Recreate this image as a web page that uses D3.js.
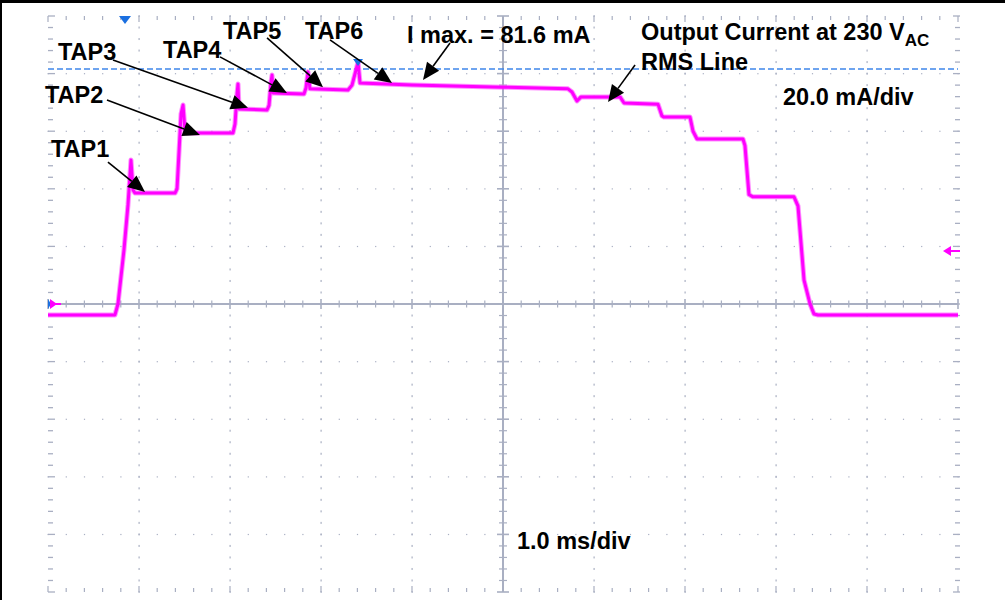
<!DOCTYPE html>
<html>
<head>
<meta charset="utf-8">
<script src="https://cdn.jsdelivr.net/npm/d3@7"></script>
<style>
  html, body { margin: 0; padding: 0; background: #fff; }
  svg { display: block; }
  text { font-family: "Liberation Sans", Arial, sans-serif; font-weight: bold; fill: #000; }
</style>
</head>
<body>
<svg id="chart" width="1005" height="600"></svg>
<script>
// ---- Data (time in ms, current in mA) ----
const timeMs = [0.000, 0.736, 0.769, 0.835, 0.879, 0.912, 0.934, 0.956, 1.396, 1.418, 1.462, 1.484, 1.505, 1.527,
  2.033, 2.055, 2.077, 2.088, 2.099, 2.407, 2.429, 2.451, 2.462, 2.473, 2.813, 2.835, 2.857, 2.879, 3.297,
  3.341, 3.385, 3.407, 3.429, 4.000, 5.000, 5.714, 5.758, 5.813, 5.857, 6.286, 6.330, 6.703, 6.747, 6.769,
  7.055, 7.088, 7.132, 7.637, 7.659, 7.703, 7.747, 8.198, 8.242, 8.308, 8.374, 8.418, 8.462, 10.000];
const currentMa = [-3.8, -3.8, 0.0, 18.8, 34.4, 50.0, 39.6, 38.5, 38.5, 40.0, 66.0, 69.1, 60.4, 59.4,
  59.4, 62.5, 72.9, 76.4, 67.7, 67.4, 69.0, 77.1, 79.5, 73.3, 72.9, 75.0, 80.6, 74.7, 74.3,
  76.0, 81.3, 84.0, 76.7, 76.0, 75.3, 74.7, 73.6, 70.5, 71.9, 71.9, 69.8, 69.4, 65.3, 64.9,
  64.9, 60.0, 57.3, 57.3, 55.0, 38.0, 37.2, 37.2, 34.0, 8.3, 0.0, -3.5, -3.8, -3.8];
const iMaxMa = 81.6;
const timeDomain = [0, 10];      // 10 divisions x 1.0 ms/div
const currentDomain = [-100, 100]; // 10 divisions x 20.0 mA/div

// Annotation labels: text anchor and arrow (start -> tip), in data units (ms, mA)
const labelTexts = ["TAP1", "TAP2", "TAP3", "TAP4", "TAP5", "TAP6", "I max. = 81.6 mA", ""];
const labelPos   = [[0.033, 51.0], [-0.033, 69.8], [0.110, 84.7], [1.264, 85.4], [1.923, 92.0], [2.824, 92.0], [3.945, 90.6], [6.516, 91.3]];
const arrowFrom  = [[0.659, 49.3], [0.648, 70.8], [0.714, 84.7], [1.890, 85.8], [2.407, 92.4], [3.099, 91.7], [4.418, 90.6], [6.451, 83.0]];
const arrowTo    = [[1.066, 38.9], [1.670, 58.7], [2.198, 68.1], [2.626, 73.3], [3.022, 75.3], [3.780, 76.7], [4.121, 77.8], [6.154, 70.1]];

// ---- Layout ----
const svg = d3.select("#chart");
const L = 48, R = 958, T = 16, B = 592;
const x = d3.scaleLinear().domain(timeDomain).range([L, R]);
const y = d3.scaleLinear().domain(currentDomain).range([B, T]);
const gridColor = "#a9afc2";
const FS = 23.5;

// outer frame (top and left edges)
svg.append("line").attr("x1", 0).attr("x2", 1005).attr("y1", 1.5).attr("y2", 1.5).attr("stroke", "#000").attr("stroke-width", 3);
svg.append("line").attr("x1", 1).attr("x2", 1).attr("y1", 0).attr("y2", 600).attr("stroke", "#000").attr("stroke-width", 2);

const grid = svg.append("g");
const xMinor = d3.range(0, 10.0001, 0.2);
const yMinor = d3.range(-100, 100.0001, 4);
const xMajor = d3.range(0, 10.0001, 1);
const yMajor = d3.range(-100, 100.0001, 20);

// dotted grid: along vertical major lines, dots at y minor steps
xMajor.forEach(t => {
  if (t === 0 || t === 10 || t === 5) return;
  yMinor.forEach(v => {
    grid.append("rect").attr("x", x(t) - 0.5).attr("y", y(v) - 1).attr("width", 1.2).attr("height", 2).attr("fill", gridColor);
  });
});
// dotted grid: along horizontal major lines, dots at x minor steps
yMajor.forEach(v => {
  if (v === -100 || v === 100 || v === 0) return;
  xMinor.forEach(t => {
    grid.append("rect").attr("x", x(t) - 0.5).attr("y", y(v) - 0.5).attr("width", 1.2).attr("height", 1.2).attr("fill", gridColor);
  });
});
// edge ticks: left and right
yMinor.forEach((v, i) => {
  const major = (Math.round(v) % 20 === 0);
  const len = major ? 7 : 5;
  grid.append("line").attr("x1", L).attr("x2", L + len).attr("y1", y(v)).attr("y2", y(v)).attr("stroke", gridColor).attr("stroke-width", 1.3);
  grid.append("line").attr("x1", R - len + 2).attr("x2", R + 2).attr("y1", y(v)).attr("y2", y(v)).attr("stroke", gridColor).attr("stroke-width", 1.3);
});
// edge ticks: top and bottom
xMinor.forEach(t => {
  const major = (Math.abs(t - Math.round(t)) < 1e-6);
  const len = major ? 6 : 4;
  grid.append("line").attr("x1", x(t)).attr("x2", x(t)).attr("y1", T).attr("y2", T + len).attr("stroke", gridColor).attr("stroke-width", 1.2);
  grid.append("line").attr("x1", x(t)).attr("x2", x(t)).attr("y1", B - len).attr("y2", B).attr("stroke", gridColor).attr("stroke-width", 1.2);
});
// center axes
grid.append("line").attr("x1", L).attr("x2", R).attr("y1", y(0)).attr("y2", y(0)).attr("stroke", gridColor).attr("stroke-width", 2);
grid.append("line").attr("x1", x(5)).attr("x2", x(5)).attr("y1", T).attr("y2", B).attr("stroke", gridColor).attr("stroke-width", 2);
xMinor.forEach(t => {
  const major = (Math.abs(t - Math.round(t)) < 1e-6);
  const h = major ? 5 : 3.5;
  grid.append("line").attr("x1", x(t)).attr("x2", x(t)).attr("y1", y(0) - h).attr("y2", y(0) + h).attr("stroke", gridColor).attr("stroke-width", major ? 1.6 : 1.2);
});
yMinor.forEach(v => {
  const major = (Math.round(v) % 20 === 0);
  const h = major ? 6 : 4;
  grid.append("line").attr("x1", x(5) - h).attr("x2", x(5) + h).attr("y1", y(v)).attr("y2", y(v)).attr("stroke", gridColor).attr("stroke-width", major ? 1.6 : 1.2);
});

// I max dashed cursor line
svg.append("line").attr("x1", L).attr("x2", R).attr("y1", y(iMaxMa)).attr("y2", y(iMaxMa))
  .attr("stroke", "#3f86ea").attr("stroke-width", 1.4).attr("stroke-dasharray", "6,3");

// waveform
const traceData = timeMs.map((t, i) => [t, currentMa[i]]);
const line = d3.line().x(d => x(d[0])).y(d => y(d[1]));
svg.append("path").datum(traceData).attr("d", line)
  .attr("fill", "none").attr("stroke", "#ff33ff").attr("stroke-width", 5).attr("stroke-linejoin", "round").attr("opacity", 0.55);
svg.append("path").datum(traceData).attr("d", line)
  .attr("fill", "none").attr("stroke", "#ff00ff").attr("stroke-width", 3).attr("stroke-linejoin", "round");

// markers
const blue = "#1a6fe0";
svg.append("path").attr("d", d3.line()([[x(0.846) - 6, T], [x(0.846) + 6, T], [x(0.846), T + 8]])).attr("fill", blue);
svg.append("path").attr("d", d3.line()([[x(3.407) - 5, y(iMaxMa) - 10], [x(3.407) + 5, y(iMaxMa) - 10], [x(3.407), y(iMaxMa) - 3]])).attr("fill", blue);
svg.append("path").attr("d", d3.line()([[L, y(0) - 5], [L + 3, y(0)], [L, y(0) + 5]])).attr("fill", blue);
svg.append("path").attr("d", d3.line()([[L + 2, y(0) - 5], [L + 9, y(0)], [L + 2, y(0) + 5]])).attr("fill", "#ff00ff");
svg.append("line").attr("x1", L + 8).attr("x2", L + 13).attr("y1", y(0)).attr("y2", y(0)).attr("stroke", "#ff00ff").attr("stroke-width", 2);
svg.append("path").attr("d", d3.line()([[R - 15, y(18.4)], [R - 7, y(18.4) - 5], [R - 7, y(18.4) + 5]])).attr("fill", "#ff00ff");
svg.append("line").attr("x1", R - 8).attr("x2", R + 2).attr("y1", y(18.4)).attr("y2", y(18.4)).attr("stroke", "#ff00ff").attr("stroke-width", 2);

// annotation arrows
const ann = svg.append("g");
arrowFrom.forEach((f, i) => {
  const x1 = x(f[0]), y1 = y(f[1]), x2 = x(arrowTo[i][0]), y2 = y(arrowTo[i][1]);
  const ang = Math.atan2(y2 - y1, x2 - x1);
  const len = 17, hw = 7.5;
  const bx = x2 - len * Math.cos(ang), by = y2 - len * Math.sin(ang);
  ann.append("line").attr("x1", x1).attr("y1", y1).attr("x2", bx).attr("y2", by).attr("stroke", "#000").attr("stroke-width", 1.6);
  const pts = [[x2, y2],
    [bx + hw * Math.sin(ang), by - hw * Math.cos(ang)],
    [bx - hw * Math.sin(ang), by + hw * Math.cos(ang)]];
  ann.append("path").attr("d", d3.line()(pts) + "Z").attr("fill", "#000");
});

// labels
labelTexts.forEach((s, i) => {
  if (!s) return;
  ann.append("text").attr("x", x(labelPos[i][0])).attr("y", y(labelPos[i][1])).attr("font-size", FS).text(s);
});
const out = ann.append("text").attr("x", 641).attr("y", 40).attr("font-size", FS);
out.append("tspan").text("Output Current at 230 V");
out.append("tspan").attr("font-size", 17).attr("dy", 6).text("AC");
ann.append("text").attr("x", 641).attr("y", 70).attr("font-size", FS).text("RMS Line");
ann.append("text").attr("x", 783).attr("y", 105).attr("font-size", FS).text("20.0 mA/div");
ann.append("text").attr("x", 517).attr("y", 549).attr("font-size", FS).text("1.0 ms/div");
</script>
</body>
</html>
